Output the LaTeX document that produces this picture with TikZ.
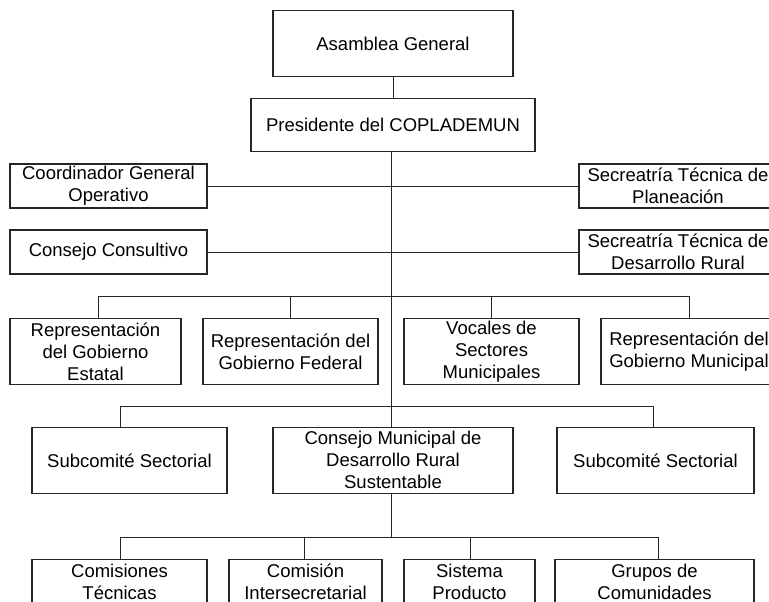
\documentclass[tikz,border=0pt]{standalone}
\usepackage{fontspec}
\setmainfont{Liberation Sans}
\begin{document}
\begin{tikzpicture}[x=1pt,y=-1pt,
  box/.style={draw=black!85, line width=1.1pt, align=center, inner sep=0pt, outer sep=0pt,
    font=\fontsize{18.5}{22}\selectfont},
  conn/.style={draw=black!85, line width=1pt}]
\useasboundingbox (0,0) rectangle (769,602);
\clip (0,0) rectangle (769,602);
% level 1-2
\node[box, minimum width=240pt, minimum height=66pt] (asam) at (393,43.7) {Asamblea General};
\node[box, minimum width=284pt, minimum height=53pt] (pres) at (393,125.2) {Presidente del COPLADEMUN};
% side boxes
\node[box, minimum width=197pt, minimum height=44pt] (coord) at (108.5,186) {Coordinador General\\Operativo};
\node[box, minimum width=198pt, minimum height=44pt] (plan) at (678,186) {Secreatría Técnica de\\Planeación};
\node[box, minimum width=197pt, minimum height=44pt] (cons) at (108.5,252) {Consejo Consultivo};
\node[box, minimum width=198pt, minimum height=44pt] (desr) at (678,252) {Secreatría Técnica de\\Desarrollo Rural};
% row 3
\node[box, minimum width=171pt, minimum height=66pt] (r1) at (95.5,351.3) {Representación\\del Gobierno\\Estatal};
\node[box, minimum width=175pt, minimum height=66pt] (r2) at (290.5,351.3) {Representación del\\Gobierno Federal};
\node[box, minimum width=175pt, minimum height=66pt] (r3) at (491.5,351.3) {Vocales de\\Sectores\\Municipales};
\node[box, minimum width=176pt, minimum height=66pt] (r4) at (689,351.3) {Representación del\\Gobierno Municipal};
% row 4
\node[box, minimum width=195pt, minimum height=66pt] (s1) at (129.5,460.3) {Subcomité Sectorial};
\node[box, minimum width=240pt, minimum height=66pt] (cm) at (393,460.3) {Consejo Municipal de\\Desarrollo Rural\\Sustentable};
\node[box, minimum width=197pt, minimum height=66pt] (s2) at (655.5,460.3) {Subcomité Sectorial};
% row 5
\node[box, minimum width=175pt, minimum height=66pt] (b1) at (119.5,592.3) {Comisiones\\Técnicas\\\phantom{X}};
\node[box, minimum width=153pt, minimum height=66pt] (b2) at (305.5,592.3) {Comisión\\Intersecretarial\\\phantom{X}};
\node[box, minimum width=131pt, minimum height=66pt] (b3) at (469.5,592.3) {Sistema\\Producto\\\phantom{X}};
\node[box, minimum width=199pt, minimum height=66pt] (b4) at (654.5,592.3) {Grupos de\\Comunidades\\\phantom{X}};
% bus coordinates
\coordinate (bus3) at (391,296);
\coordinate (bus4) at (391,406);
\coordinate (bus5) at (391,537.3);
% connectors
\draw[conn] (asam.south) -- (pres.north);
\draw[conn] (pres.south -| 391,0) -- (cm.north -| 391,0);
\draw[conn] (coord.east) -- (plan.west);
\draw[conn] (cons.east) -- (desr.west);
\draw[conn] (r1.north -| 98,0) -- (bus3 -| 98,0) -- (bus3 -| 689,0) -- (r4.north);
\draw[conn] (r2.north) -- (bus3 -| r2.north);
\draw[conn] (r3.north) -- (bus3 -| r3.north);
\draw[conn] (s1.north -| 120,0) -- (bus4 -| 120,0) -- (bus4 -| 653,0) -- (s2.north -| 653,0);
\draw[conn] (cm.south -| 391,0) -- (bus5);
\draw[conn] (b1.north -| 120,0) -- (bus5 -| 120,0) -- (bus5 -| 658,0) -- (b4.north -| 658,0);
\draw[conn] (b2.north -| 304,0) -- (bus5 -| 304,0);
\draw[conn] (b3.north -| 470,0) -- (bus5 -| 470,0);
\end{tikzpicture}
\end{document}
